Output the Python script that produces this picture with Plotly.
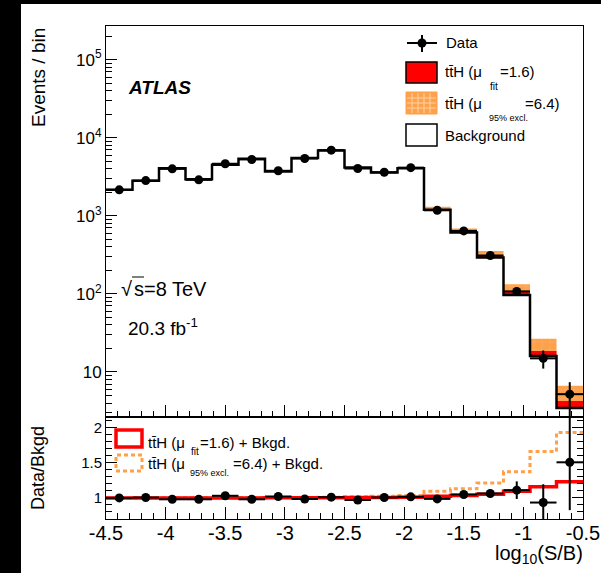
import numpy as np
import plotly.graph_objects as go

# ---------------- data ----------------
bin_lo, bin_hi, n_bins = -4.5, -0.5, 18
background = [2150, 2810, 4080, 2950, 4510, 5380, 3700, 5500, 6870, 4160,
              3590, 4080, 1194, 611, 292, 97, 16, 3.45]
# (ttH + Bkgd) / Bkgd
ratio_fit = [1.0, 1.0, 1.0, 1.0, 1.0, 1.0, 1.001, 1.001, 1.003, 1.004,
             1.006, 1.009, 1.024, 1.033, 1.053, 1.093, 1.16, 1.23]
ratio_excl = [1.0, 1.0, 1.001, 1.002, 1.003, 1.004, 1.005, 1.006, 1.01, 1.015,
              1.025, 1.035, 1.095, 1.13, 1.21, 1.37, 1.66, 1.93]
# Data / Bkgd
data_ratio = [1.0, 1.005, 0.98, 0.98, 1.03, 0.98, 1.02, 0.985, 1.01, 0.97,
              1.006, 1.015, 0.986, 1.049, 1.063, 1.11, 0.934, 1.506]
data_ratio_err = [0.01, 0.01, 0.01, 0.01, 0.01, 0.01, 0.01, 0.01, 0.01, 0.01,
                  0.01, 0.01, 0.015, 0.02, 0.05, 0.125, 0.26, 0.68]
data_err_up = [46, 53, 64, 54, 67, 73, 61, 74, 83, 65, 60, 64, 35, 25, 17, 10, 3.9, 2.2]
data_err_dn = [46, 53, 64, 54, 67, 73, 61, 74, 83, 65, 60, 64, 35, 25, 17, 10, 3.9, 2.9]

y_ticks_main = [10, 100, 1000, 10000, 100000]
y_ticktext_main = ["10", "10<sup>2</sup>", "10<sup>3</sup>", "10<sup>4</sup>", "10<sup>5</sup>"]
x_ticks = [-4.5, -4, -3.5, -3, -2.5, -2, -1.5, -1, -0.5]
x_ticktext = ["-4.5", "-4", "-3.5", "-3", "-2.5", "-2", "-1.5", "-1", "-0.5"]
r_ticks = [1, 1.5, 2]
r_ticktext = ["1", "1.5", "2"]

# ---------------- derived ----------------
edges = np.linspace(bin_lo, bin_hi, n_bins + 1)
centers = 0.5 * (edges[:-1] + edges[1:])
half_w = 0.5 * (edges[1] - edges[0])
bkg = np.array(background)
top_fit = bkg * np.array(ratio_fit)
top_excl = bkg * np.array(ratio_excl)
data_counts = bkg * np.array(data_ratio)


def step(vals):
    v = list(vals)
    return list(edges), v + [v[-1]]


FONT = "Liberation Sans, Arial, Helvetica, sans-serif"
ORANGE = "#FFA04A"
ORANGE_LT = "#FFD3A8"

fig = go.Figure()

# ---- main panel ----
sx, sy = step(bkg)
fig.add_trace(go.Scatter(x=sx, y=sy, mode="lines", line=dict(width=0, shape="hv"),
                         xaxis="x", yaxis="y", hoverinfo="skip"))
ex, ey = step(top_excl)
fig.add_trace(go.Scatter(x=ex, y=ey, mode="lines", line=dict(width=0, shape="hv"),
                         fill="tonexty", fillcolor=ORANGE,
                         fillpattern=dict(shape="+", bgcolor=ORANGE, fgcolor=ORANGE_LT,
                                          size=8, solidity=0.08),
                         xaxis="x", yaxis="y"))
fig.add_trace(go.Scatter(x=sx, y=sy, mode="lines", line=dict(width=0, shape="hv"),
                         xaxis="x", yaxis="y", hoverinfo="skip"))
fx, fy = step(top_fit)
fig.add_trace(go.Scatter(x=fx, y=fy, mode="lines", line=dict(width=0, shape="hv"),
                         fill="tonexty", fillcolor="#FF0000", xaxis="x", yaxis="y"))
fig.add_trace(go.Scatter(x=sx, y=sy, mode="lines", line=dict(width=2.5, color="black", shape="hv"),
                         xaxis="x", yaxis="y"))
fig.add_trace(go.Scatter(x=centers, y=data_counts, mode="markers",
                         marker=dict(size=9, color="black"),
                         error_x=dict(type="constant", value=half_w, width=0, thickness=2, color="black"),
                         error_y=dict(type="data", array=data_err_up, arrayminus=data_err_dn,
                                      width=0, thickness=2, color="black"),
                         xaxis="x", yaxis="y"))

# ---- ratio panel ----
rx, ry = step(ratio_excl)
fig.add_trace(go.Scatter(x=rx, y=ry, mode="lines",
                         line=dict(width=3, color=ORANGE, dash="4px,3px", shape="hv"),
                         xaxis="x2", yaxis="y2"))
qx, qy = step(ratio_fit)
fig.add_trace(go.Scatter(x=qx, y=qy, mode="lines",
                         line=dict(width=3.5, color="#FF0000", shape="hv"),
                         xaxis="x2", yaxis="y2"))
fig.add_trace(go.Scatter(x=centers, y=data_ratio, mode="markers",
                         marker=dict(size=9, color="black"),
                         error_x=dict(type="constant", value=half_w, width=0, thickness=2, color="black"),
                         error_y=dict(type="data", array=data_ratio_err, width=0, thickness=2, color="black"),
                         xaxis="x2", yaxis="y2"))

# ---------------- layout ----------------
W, H = 601, 573
L, R, T, B = 106, 583, 26, 519
SPLIT = 417


def X(px):
    return (px - L) / (R - L)


def Y(py):
    return (B - py) / (B - T)


ratio_top = Y(SPLIT)

axis_common = dict(showgrid=False, zeroline=False, showline=True, linecolor="black",
                   linewidth=1, ticks="inside", tickcolor="black", tickwidth=1)

fig.update_layout(
    width=W, height=H, showlegend=False,
    margin=dict(l=L, r=W - R, t=T, b=H - B, autoexpand=False),
    paper_bgcolor="black", plot_bgcolor="white",
    font=dict(family=FONT, color="black"),
    xaxis=dict(axis_common, domain=[0, 1], anchor="y", range=[bin_lo, bin_hi],
               tickvals=x_ticks, showticklabels=False, ticklen=12, mirror=True,
               minor=dict(ticks="inside", ticklen=6, dtick=0.1, tick0=-4.5, tickcolor="black")),
    yaxis=dict(axis_common, domain=[ratio_top, 1], anchor="x", type="log",
               range=[np.log10(2.65), np.log10(2.7e5)],
               tickvals=y_ticks_main, ticktext=y_ticktext_main, ticklen=11, mirror=True,
               tickfont=dict(size=17),
               minor=dict(ticks="inside", ticklen=6, tickcolor="black",
                          tickvals=[m * 10 ** e for e in range(0, 6) for m in range(2, 10)])),
    xaxis2=dict(axis_common, domain=[0, 1], anchor="y2", range=[bin_lo, bin_hi],
                tickvals=x_ticks, ticktext=x_ticktext, ticklen=12, mirror=True,
                tickfont=dict(size=20), ticklabelstandoff=-4,
                minor=dict(ticks="inside", ticklen=6, dtick=0.1, tick0=-4.5, tickcolor="black")),
    yaxis2=dict(axis_common, domain=[0, ratio_top], anchor="x2", range=[0.7, 2.15],
                tickvals=r_ticks, ticktext=r_ticktext, ticklen=11, mirror="ticks",
                tickfont=dict(size=15),
                minor=dict(ticks="inside", ticklen=6, tickcolor="black",
                           tickvals=[round(0.7 + 0.1 * i, 2) for i in range(15)])),
)

shapes = []
# white page on black screenshot border
shapes.append(dict(type="rect", xref="paper", yref="paper", x0=X(21), x1=X(610),
                   y0=Y(580), y1=Y(4), fillcolor="white", line=dict(width=0), layer="below"))
# main legend symbols
shapes.append(dict(type="line", xref="paper", yref="paper", x0=X(407), x1=X(437), y0=Y(43), y1=Y(43),
                   line=dict(color="black", width=2)))
shapes.append(dict(type="line", xref="paper", yref="paper", x0=X(422), x1=X(422), y0=Y(35), y1=Y(52),
                   line=dict(color="black", width=2)))
shapes.append(dict(type="circle", xref="paper", yref="paper", x0=X(417.5), x1=X(426.5),
                   y0=Y(47.5), y1=Y(38.5), fillcolor="black", line=dict(color="black", width=0)))
shapes.append(dict(type="rect", xref="paper", yref="paper", x0=X(406), x1=X(437), y0=Y(83), y1=Y(62),
                   fillcolor="#FF0000", line=dict(color="black", width=1.5)))
shapes.append(dict(type="rect", xref="paper", yref="paper", x0=X(406), x1=X(437), y0=Y(114), y1=Y(92),
                   fillcolor=ORANGE, line=dict(color=ORANGE, width=1)))
for yy in (98, 103, 108):
    shapes.append(dict(type="line", xref="paper", yref="paper", x0=X(407), x1=X(436), y0=Y(yy), y1=Y(yy),
                       line=dict(color=ORANGE_LT, width=1)))
for xx in (412, 418, 424, 430):
    shapes.append(dict(type="line", xref="paper", yref="paper", x0=X(xx), x1=X(xx), y0=Y(113), y1=Y(93),
                       line=dict(color=ORANGE_LT, width=1)))
shapes.append(dict(type="rect", xref="paper", yref="paper", x0=X(406), x1=X(437), y0=Y(146), y1=Y(124),
                   fillcolor="white", line=dict(color="black", width=1.5)))
# ratio legend symbols
shapes.append(dict(type="rect", xref="paper", yref="paper", x0=X(116), x1=X(142), y0=Y(447), y1=Y(430),
                   line=dict(color="#FF0000", width=3.5)))
shapes.append(dict(type="rect", xref="paper", yref="paper", x0=X(116), x1=X(142), y0=Y(471), y1=Y(455),
                   line=dict(color=ORANGE, width=3, dash="4px,3px")))
# overline of the square-root sign (over the "s")
shapes.append(dict(type="line", xref="paper", yref="paper", x0=X(132), x1=X(144), y0=Y(277), y1=Y(277),
                   line=dict(color="black", width=1)))
fig.update_layout(shapes=shapes)

ann = []


def text(t, px, py, size, xanchor="left", angle=0, yanchor="middle", **kw):
    ann.append(dict(text=t, x=X(px), y=Y(py), xref="paper", yref="paper", showarrow=False,
                    xanchor=xanchor, yanchor=yanchor, textangle=angle,
                    font=dict(family=FONT, size=size, color="black"), borderpad=0, **kw))


TTH = "tt\u0304H (\u03bc"
text("Events / bin", 38, 78, 19, xanchor="center", angle=-90)
text("Data/Bkgd", 38, 468, 18, xanchor="center", angle=-90)
text("log<sub>10</sub>(S/B)", 584, 554, 20, xanchor="right")
text("<b><i>ATLAS</i></b>", 127, 88, 19)
text("\u221a", 133, 289, 20, xanchor="right")
text("s=8 TeV", 133, 289, 20)
text("20.3 fb<sup>-1</sup>", 127, 327, 19)
# main legend
text("Data", 445, 43, 15)
text(TTH, 444, 72, 15)
text("fit", 489, 86, 10)
text("=1.6)", 499, 72, 15)
text(TTH, 444, 104, 15)
text("95% excl.", 488, 118, 9)
text("=6.4)", 524, 104, 15)
text("Background", 444, 135, 15)
# ratio legend
text(TTH, 147, 442, 15)
text("fit", 190, 451, 10)
text("=1.6) + Bkgd.", 199, 442, 15)
text(TTH, 147, 463, 15)
text("95% excl.", 189, 473, 9)
text("=6.4) + Bkgd.", 232, 463, 15)
fig.update_layout(annotations=ann)

fig.write_html("out.html")
